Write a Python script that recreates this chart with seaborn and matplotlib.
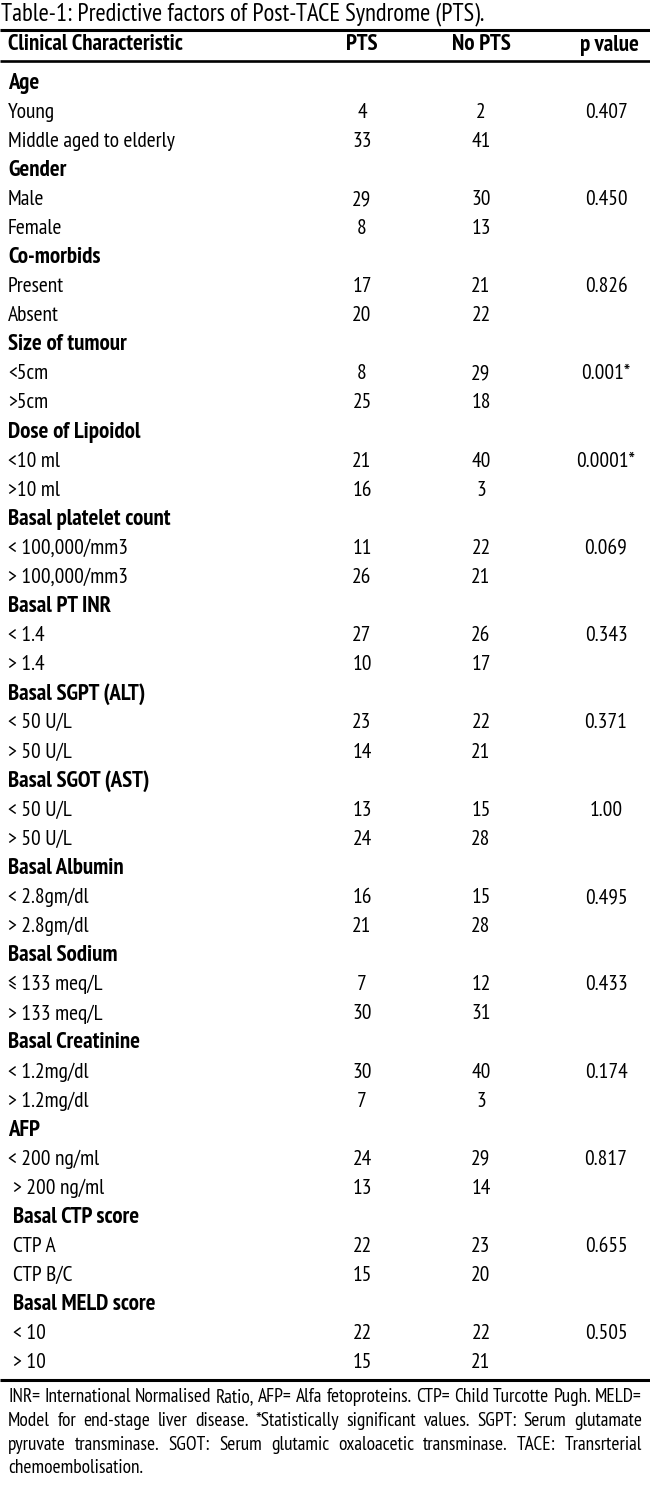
import matplotlib
matplotlib.use('Agg')
import matplotlib.pyplot as plt
import seaborn as sns
from matplotlib import font_manager

# table data
caption = 'Table-1: Predictive factors of Post-TACE Syndrome (PTS).'
headers = ['Clinical Characteristic', 'PTS', 'No PTS', 'p value']

groups = ['Age', 'Gender', 'Co-morbids', 'Size of tumour', 'Dose of Lipoidol',
          'Basal platelet count', 'Basal PT INR', 'Basal SGPT (ALT)',
          'Basal SGOT (AST)', 'Basal Albumin', 'Basal Sodium',
          'Basal Creatinine', 'AFP', 'Basal CTP score', 'Basal MELD score']
levels = [['Young', 'Middle aged to elderly'],
          ['Male', 'Female'],
          ['Present', 'Absent'],
          ['<5cm', '>5cm'],
          ['<10 ml', '>10 ml'],
          ['< 100,000/mm3', '> 100,000/mm3'],
          ['< 1.4', '> 1.4'],
          ['< 50 U/L', '> 50 U/L'],
          ['< 50 U/L', '> 50 U/L'],
          ['< 2.8gm/dl', '> 2.8gm/dl'],
          ['≤ 133 meq/L', '> 133 meq/L'],
          ['< 1.2mg/dl', '> 1.2mg/dl'],
          ['< 200 ng/ml', '> 200 ng/ml'],
          ['CTP A', 'CTP B/C'],
          ['< 10', '> 10']]
pts = [[4, 33], [29, 8], [17, 20], [8, 25], [21, 16], [11, 26], [27, 10],
       [23, 14], [13, 24], [16, 21], [7, 30], [30, 7], [24, 13], [22, 15], [22, 15]]
no_pts = [[2, 41], [30, 13], [21, 22], [29, 18], [40, 3], [22, 21], [26, 17],
          [22, 21], [15, 28], [15, 28], [12, 31], [40, 3], [29, 14], [23, 20], [22, 21]]
p_values = ['0.407', '0.450', '0.826', '0.001*', '0.0001*', '0.069', '0.343',
            '0.371', '1.00', '0.495', '0.433', '0.174', '0.817', '0.655', '0.505']

footnote = ['INR= International Normalised Ratio, AFP= Alfa fetoproteins. CTP= Child Turcotte Pugh. MELD=',
            'Model for end-stage liver disease. *Statistically significant values. SGPT: Serum glutamate',
            'pyruvate transminase. SGOT: Serum glutamic oxaloacetic transminase. TACE: Transrterial',
            'chemoembolisation.']

sns.set_theme(style='white')
names = {f.name for f in font_manager.fontManager.ttflist}
cands = ['PT Sans Narrow', 'Archivo Narrow', 'Fira Sans Condensed', 'Roboto Condensed',
         'Liberation Sans Narrow', 'Liberation Sans', 'DejaVu Sans']
fam = [f for f in cands if f in names][:1] + ['DejaVu Sans']
plt.rcParams['font.family'] = fam
plt.rcParams['text.color'] = 'black'

W, H = 650, 1486
fig = plt.figure(figsize=(W / 100, H / 100), dpi=100)
ax = fig.add_axes([0, 0, 1, 1])
ax.set_xlim(0, W)
ax.set_ylim(H, 0)
ax.axis('off')
fig.canvas.draw()
r = fig.canvas.get_renderer()


def fit_size(sample, target_px, weight='normal'):
    # font size that gives the sample string the width seen in the reference
    t = ax.text(0, 0, sample, fontsize=10, fontweight=weight)
    w = t.get_window_extent(renderer=r).width
    t.remove()
    return 10 * target_px / w


fs = min(fit_size('Middle aged to elderly', 167), 16.5)
fb = min(fit_size('Basal platelet count', 171, 'bold'), 16.5)
fc = fs * 1.15

x_lab, x_pts, x_no, x_p = 8, 362, 481, 606

ax.text(1, 14, caption, fontsize=fc, va='center', ha='left')
ax.plot([0, W], [29.5, 29.5], color='black', lw=2.2, solid_capstyle='butt')
ax.text(x_lab, 45, headers[0], fontsize=fb, fontweight='bold', va='center')
ax.text(x_pts, 45, headers[1], fontsize=fb, fontweight='bold', va='center', ha='center')
ax.text(x_no, 45, headers[2], fontsize=fb, fontweight='bold', va='center', ha='center')
ax.text(639, 45, headers[3], fontsize=fb, fontweight='bold', va='center', ha='right')
ax.plot([0, W], [61, 61], color='black', lw=1.9, solid_capstyle='butt')

y0, step = 83, 29.09
row = 0
for i, g in enumerate(groups):
    ind = 5 if i >= 13 else 0
    ax.text(x_lab + ind, y0 + row * step, g, fontsize=fb, fontweight='bold', va='center')
    row += 1
    for j, lv in enumerate(levels[i]):
        ind2 = 5 if (i > 12 or (i == 12 and j == 1)) else 0
        yy = y0 + row * step
        ax.text(x_lab + ind2, yy, lv, fontsize=fs, va='center')
        ax.text(x_pts, yy, str(pts[i][j]), fontsize=fs, va='center', ha='center')
        ax.text(x_no, yy, str(no_pts[i][j]), fontsize=fs, va='center', ha='center')
        if j == 0:
            ax.text(x_p, yy, p_values[i], fontsize=fs, va='center', ha='center')
        row += 1

ax.plot([0, W], [1380, 1380], color='black', lw=2.2, solid_capstyle='butt')

# justified footnote, shrink if a line will not fit
left, right = 8, 642
fy = [1397, 1421, 1445, 1468]
ffs = fs
while True:
    ok = True
    for line in footnote[:-1]:
        t = ax.text(0, 0, line, fontsize=ffs)
        if t.get_window_extent(renderer=r).width > right - left - 4:
            ok = False
        t.remove()
    if ok or ffs < 8:
        break
    ffs -= 0.25

for k, line in enumerate(footnote):
    if k == len(footnote) - 1:
        ax.text(left, fy[k], line, fontsize=ffs, va='center')
        continue
    words = line.split(' ')
    ts = [ax.text(0, fy[k], w, fontsize=ffs, va='center') for w in words]
    widths = [t.get_window_extent(renderer=r).width for t in ts]
    gap = (right - left - sum(widths)) / (len(words) - 1)
    x = left
    for t, w in zip(ts, widths):
        t.set_x(x)
        x += w + gap

fig.savefig('out.png', dpi=100)
